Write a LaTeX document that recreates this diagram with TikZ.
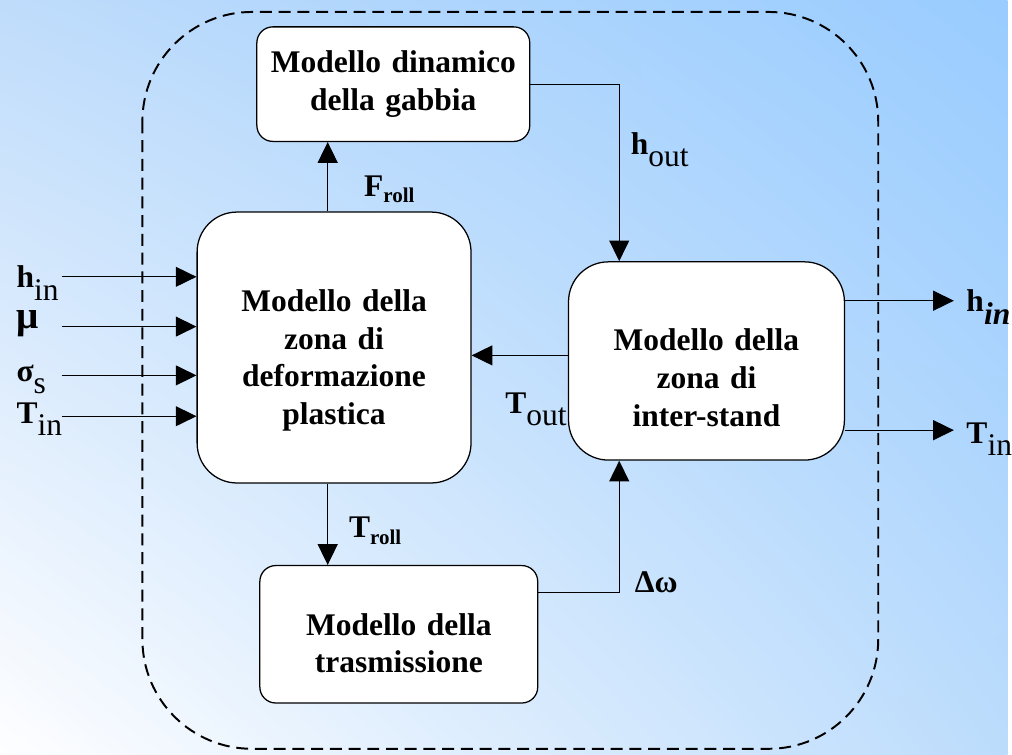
\documentclass[tikz,border=0pt]{standalone}
\usepackage{fontspec}
\setmainfont{Liberation Serif}
\usetikzlibrary{arrows.meta,positioning,calc,shadings}

\definecolor{sfondoTL}{RGB}{191,220,251}
\definecolor{sfondoTR}{RGB}{153,204,255}
\definecolor{sfondoBL}{RGB}{254,254,255}
\definecolor{sfondoBR}{RGB}{188,220,252}

\newcommand{\testo}{\bfseries\fontsize{22.5}{27}\selectfont}
\newcommand{\pedice}[1]{\raisebox{-0.4em}{\mdseries #1}}
\newcommand{\piccolo}[1]{\raisebox{-0.2em}{\fontsize{15}{18}\selectfont #1}}

\tikzstyle{blocco} = [rectangle, rounded corners=0.4cm, 
text centered, 
draw=black, 
line width=0.9pt,
fill=white,
inner sep=0pt,
font=\testo]
\tikzstyle{grande} = [blocco, 
rounded corners=1cm]
\tikzstyle{etichetta} = [inner sep=0pt, 
anchor=base west,
font=\testo]

\begin{document}
\begin{tikzpicture}[x=0.025cm, y=-0.025cm, >={Triangle[length=0.52cm,width=0.5cm]}, line width=0.9pt]
\shade [upper left=sfondoTL, upper right=sfondoTR, lower left=sfondoBL, lower right=sfondoBR] (0,0) rectangle (1012,758);
\draw [dash pattern=on 0.3cm off 0.17cm, line width=1.4pt, rounded corners=2.75cm] (143,12) rectangle (882,752);

\node (gabbia) [blocco, minimum width=6.85cm, minimum height=2.875cm, text width=6.5cm] at (395,84.5) {Modello dinamico \par della gabbia};
\node (deform) [grande, minimum width=6.875cm, minimum height=6.8cm, text width=6.5cm] at (335.5,349) {\rule{0pt}{1.2cm}Modello della \par zona di \par deformazione \par plastica};
\node (inter) [grande, minimum width=6.925cm, minimum height=4.975cm, text width=6.5cm] at (709.5,362.5) {\rule{0pt}{1.4cm}Modello della \par zona di \par inter-stand};
\node (trasm) [blocco, minimum width=6.975cm, minimum height=3.45cm, text width=6.5cm] at (400.5,637) {\rule{0pt}{1cm}Modello della \par trasmissione};

% ingressi
\foreach \y/\yb/\nome/\lab in {278/289/hin/{h\pedice{in}}, 328/330/mu/{\fontsize{28}{30}\selectfont μ}, 377/383/sigma/{σ\pedice{s}}, 418/425/tin/{T\pedice{in}}} {
  \coordinate (\nome) at (62,\y);
  \node (l\nome) [etichetta] at (16,\yb) {\lab};
  \draw [->] (\nome) -- (\nome -| deform.west);
}

% uscite
\coordinate (uhin) at (958,302);
\coordinate (utin) at (958,432);
\node (luhin) [etichetta] at (970,313) {h\pedice{\itshape\bfseries in}};
\node (lutin) [etichetta] at (970,445) {T\pedice{in}};
\draw [->] (uhin -| inter.east) -- (uhin);
\draw [->] (utin -| inter.east) -- (utin);

% collegamenti
\draw [->] ([xshift=-0.16cm]deform.north) -- ([xshift=-0.16cm]deform.north |- gabbia.south);
\draw [->] ([xshift=-0.16cm]deform.south) -- ([xshift=-0.16cm]deform.south |- trasm.north);
\draw [->] (gabbia.east) -| ([xshift=-2.19cm]inter.north);
\draw [->] ([yshift=1.05cm]trasm.east) -| ([xshift=-2.19cm]inter.south);
\draw [->] ([yshift=0.14cm]inter.west) -- ([yshift=0.14cm]inter.west -| deform.east);

\node (froll) [etichetta] at (365,197) {F\piccolo{roll}};
\node (troll) [etichetta] at (350,540) {T\piccolo{roll}};
\node (tout) [etichetta] at (507,415) {T\pedice{out}};
\node (hout) [etichetta] at (633,155) {h\pedice{out}};
\node (domega) [etichetta] at (637,595) {Δω};
\end{tikzpicture}
\end{document}
